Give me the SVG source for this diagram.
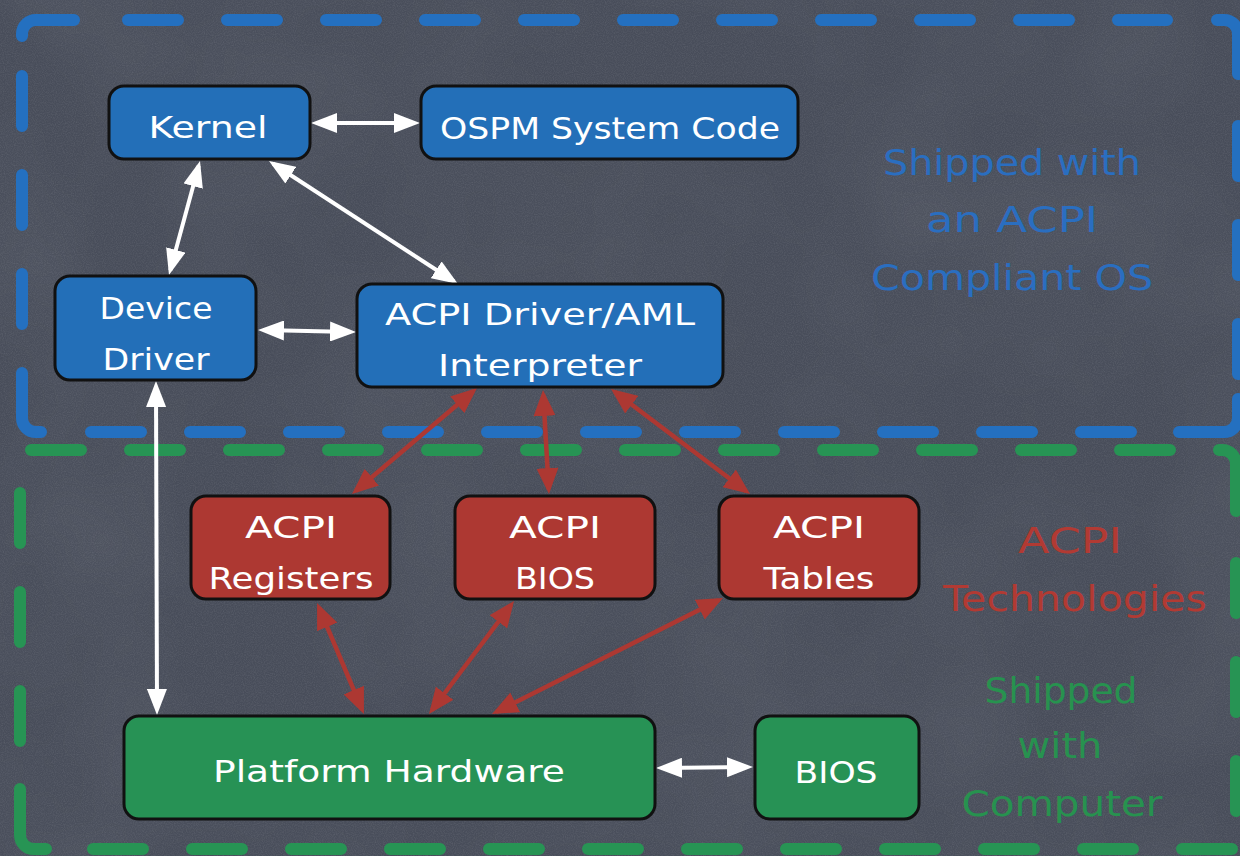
<svg xmlns="http://www.w3.org/2000/svg" width="1240" height="856" viewBox="0 0 1240 856">
  <defs>
    <style>
      .box { stroke: #111; stroke-width: 3; }
      .os { fill: #236fb8; }
      .tech { fill: #ad3832; }
      .hw { fill: #279255; }
      .lbl { fill: #fff; font-family: "DejaVu Sans", "Liberation Sans", sans-serif; font-size: 31px; text-anchor: middle; }
      .side { font-family: "DejaVu Sans", "Liberation Sans", sans-serif; font-size: 35px; text-anchor: middle; }
      .bdash { fill: none; stroke: #2470c0; stroke-width: 12; stroke-linecap: round; }
      .gdash { fill: none; stroke: #279454; stroke-width: 12; stroke-linecap: round; }
      .seg { stroke-dasharray: 50 49; }
      .wl { stroke: #fff; stroke-width: 4; fill: none; marker-start: url(#wh); marker-end: url(#wh); }
      .rl { stroke: #ad3832; stroke-width: 4.5; fill: none; marker-start: url(#rh); marker-end: url(#rh); }
    </style>
    <marker id="wh" markerUnits="userSpaceOnUse" markerWidth="27" markerHeight="20" refX="21" refY="10" orient="auto-start-reverse">
      <path d="M0,0 L26,10 L0,20 Z" fill="#fff"/>
    </marker>
    <marker id="rh" markerUnits="userSpaceOnUse" markerWidth="27" markerHeight="22" refX="21" refY="11" orient="auto-start-reverse">
      <path d="M0,0 L26,11 L0,22 Z" fill="#ad3832"/>
    </marker>
    <filter id="grain" x="0" y="0" width="100%" height="100%">
      <feTurbulence type="fractalNoise" baseFrequency="0.9" numOctaves="2" seed="3" result="n"/>
      <feColorMatrix type="matrix" values="0 0 0 0 1  0 0 0 0 1  0 0 0 0 1  0 0 0 0.5 -0.18"/>
    </filter>
    <filter id="cloud" x="0" y="0" width="100%" height="100%">
      <feTurbulence type="fractalNoise" baseFrequency="0.006" numOctaves="3" seed="7"/>
      <feColorMatrix type="matrix" values="0 0 0 0 1  0 0 0 0 1  0 0 0 0 1  0 0 0 0.35 -0.12"/>
    </filter>
  </defs>

  <!-- chalkboard -->
  <rect width="1240" height="856" fill="#484d5a"/>
  <rect width="1240" height="856" filter="url(#cloud)" opacity="0.22"/>
  <rect width="1240" height="856" filter="url(#grain)" opacity="0.3"/>

  <!-- OS region (blue dashed frame) -->
  <g id="os-region">
    <line class="bdash seg" x1="128" y1="20" x2="1167" y2="20"/>
    <line class="bdash seg" x1="1238" y1="126" x2="1238" y2="374"/>
    <line class="bdash seg" x1="91" y1="432" x2="1131" y2="432"/>
    <line class="bdash seg" x1="22" y1="76" x2="22" y2="324"/>
    <path class="bdash" d="M22,36 V34 A14,14 0 0 1 36,20 H74"/>
    <path class="bdash" d="M1217,20 H1224 A14,14 0 0 1 1238,34 V74"/>
    <path class="bdash" d="M1238,399 V418 A14,14 0 0 1 1224,432 H1179"/>
    <path class="bdash" d="M22,373 V418 A14,14 0 0 0 36,432 H41"/>
    <text class="side" fill="#2a6ec0" x="1012" y="175" textLength="258" lengthAdjust="spacingAndGlyphs">Shipped with</text>
    <text class="side" fill="#2a6ec0" x="1012" y="232" textLength="172" lengthAdjust="spacingAndGlyphs">an ACPI</text>
    <text class="side" fill="#2a6ec0" x="1012" y="290" textLength="282" lengthAdjust="spacingAndGlyphs">Compliant OS</text>
  </g>

  <!-- platform region (green dashed frame) -->
  <g id="platform-region">
    <line class="gdash seg" x1="31" y1="450" x2="1171" y2="450"/>
    <line class="gdash seg" x1="1236" y1="563" x2="1236" y2="814"/>
    <line class="gdash seg" x1="93" y1="849" x2="1234" y2="849"/>
    <line class="gdash seg" x1="20" y1="493" x2="20" y2="741"/>
    <path class="gdash" d="M1219,450 H1222 A14,14 0 0 1 1236,464 V511"/>
    <path class="gdash" d="M20,789 V835 A14,14 0 0 0 34,849 H46"/>
    <text class="side" fill="#b23a33" x="1070" y="553" textLength="104" lengthAdjust="spacingAndGlyphs">ACPI</text>
    <text class="side" fill="#b23a33" x="1075" y="611" textLength="264" lengthAdjust="spacingAndGlyphs">Technologies</text>
    <text class="side" fill="#27924f" x="1061" y="703" textLength="153" lengthAdjust="spacingAndGlyphs">Shipped</text>
    <text class="side" fill="#27924f" x="1060" y="758" textLength="85" lengthAdjust="spacingAndGlyphs">with</text>
    <text class="side" fill="#27924f" x="1062" y="816" textLength="201" lengthAdjust="spacingAndGlyphs">Computer</text>
  </g>

  <!-- connectors -->
  <g id="connectors">
    <line class="wl" x1="316" y1="123" x2="415" y2="123"/>
    <line class="wl" x1="198.7" y1="165.8" x2="170.3" y2="270.2"/>
    <line class="wl" x1="273.2" y1="163.7" x2="453.8" y2="281.3"/>
    <line class="wl" x1="263" y1="330.1" x2="351" y2="331.9"/>
    <line class="wl" x1="156" y1="386" x2="157" y2="710"/>
    <line class="wl" x1="661" y1="768" x2="748" y2="767"/>
    <line class="rl" x1="473.2" y1="391.2" x2="355.8" y2="490.8"/>
    <line class="rl" x1="543.3" y1="395" x2="548.7" y2="489"/>
    <line class="rl" x1="615" y1="392" x2="746" y2="491"/>
    <line class="rl" x1="319" y1="607.6" x2="362" y2="709.4"/>
    <line class="rl" x1="511" y1="605" x2="432" y2="710"/>
    <line class="rl" x1="718.5" y1="600.2" x2="496.5" y2="711.8"/>
  </g>

  <!-- nodes -->
  <g id="kernel">
    <rect class="box os" x="109" y="86" width="201" height="73" rx="15"/>
    <text class="lbl" x="208" y="138" textLength="119" lengthAdjust="spacingAndGlyphs">Kernel</text>
  </g>
  <g id="ospm">
    <rect class="box os" x="421" y="86" width="377" height="73" rx="15"/>
    <text class="lbl" x="610" y="139" textLength="340" lengthAdjust="spacingAndGlyphs">OSPM System Code</text>
  </g>
  <g id="device-driver">
    <rect class="box os" x="55" y="276" width="201" height="104" rx="15"/>
    <text class="lbl" x="156" y="319" textLength="113" lengthAdjust="spacingAndGlyphs">Device</text>
    <text class="lbl" x="156" y="370" textLength="107" lengthAdjust="spacingAndGlyphs">Driver</text>
  </g>
  <g id="acpi-driver">
    <rect class="box os" x="357" y="284" width="366" height="103" rx="15"/>
    <text class="lbl" x="540" y="325" textLength="310" lengthAdjust="spacingAndGlyphs">ACPI Driver/AML</text>
    <text class="lbl" x="540" y="376" textLength="204" lengthAdjust="spacingAndGlyphs">Interpreter</text>
  </g>
  <g id="acpi-registers">
    <rect class="box tech" x="191" y="496" width="199" height="103" rx="15"/>
    <text class="lbl" x="291" y="538" textLength="92" lengthAdjust="spacingAndGlyphs">ACPI</text>
    <text class="lbl" x="291" y="589" textLength="165" lengthAdjust="spacingAndGlyphs">Registers</text>
  </g>
  <g id="acpi-bios">
    <rect class="box tech" x="455" y="496" width="200" height="103" rx="15"/>
    <text class="lbl" x="555" y="538" textLength="92" lengthAdjust="spacingAndGlyphs">ACPI</text>
    <text class="lbl" x="555" y="589" textLength="80" lengthAdjust="spacingAndGlyphs">BIOS</text>
  </g>
  <g id="acpi-tables">
    <rect class="box tech" x="719" y="496" width="200" height="103" rx="15"/>
    <text class="lbl" x="819" y="538" textLength="92" lengthAdjust="spacingAndGlyphs">ACPI</text>
    <text class="lbl" x="819" y="589" textLength="111" lengthAdjust="spacingAndGlyphs">Tables</text>
  </g>
  <g id="platform-hardware">
    <rect class="box hw" x="124" y="716" width="531" height="103" rx="15"/>
    <text class="lbl" x="389" y="782" textLength="352" lengthAdjust="spacingAndGlyphs">Platform Hardware</text>
  </g>
  <g id="bios">
    <rect class="box hw" x="755" y="716" width="164" height="103" rx="15"/>
    <text class="lbl" x="836" y="783" textLength="83" lengthAdjust="spacingAndGlyphs">BIOS</text>
  </g>
</svg>
